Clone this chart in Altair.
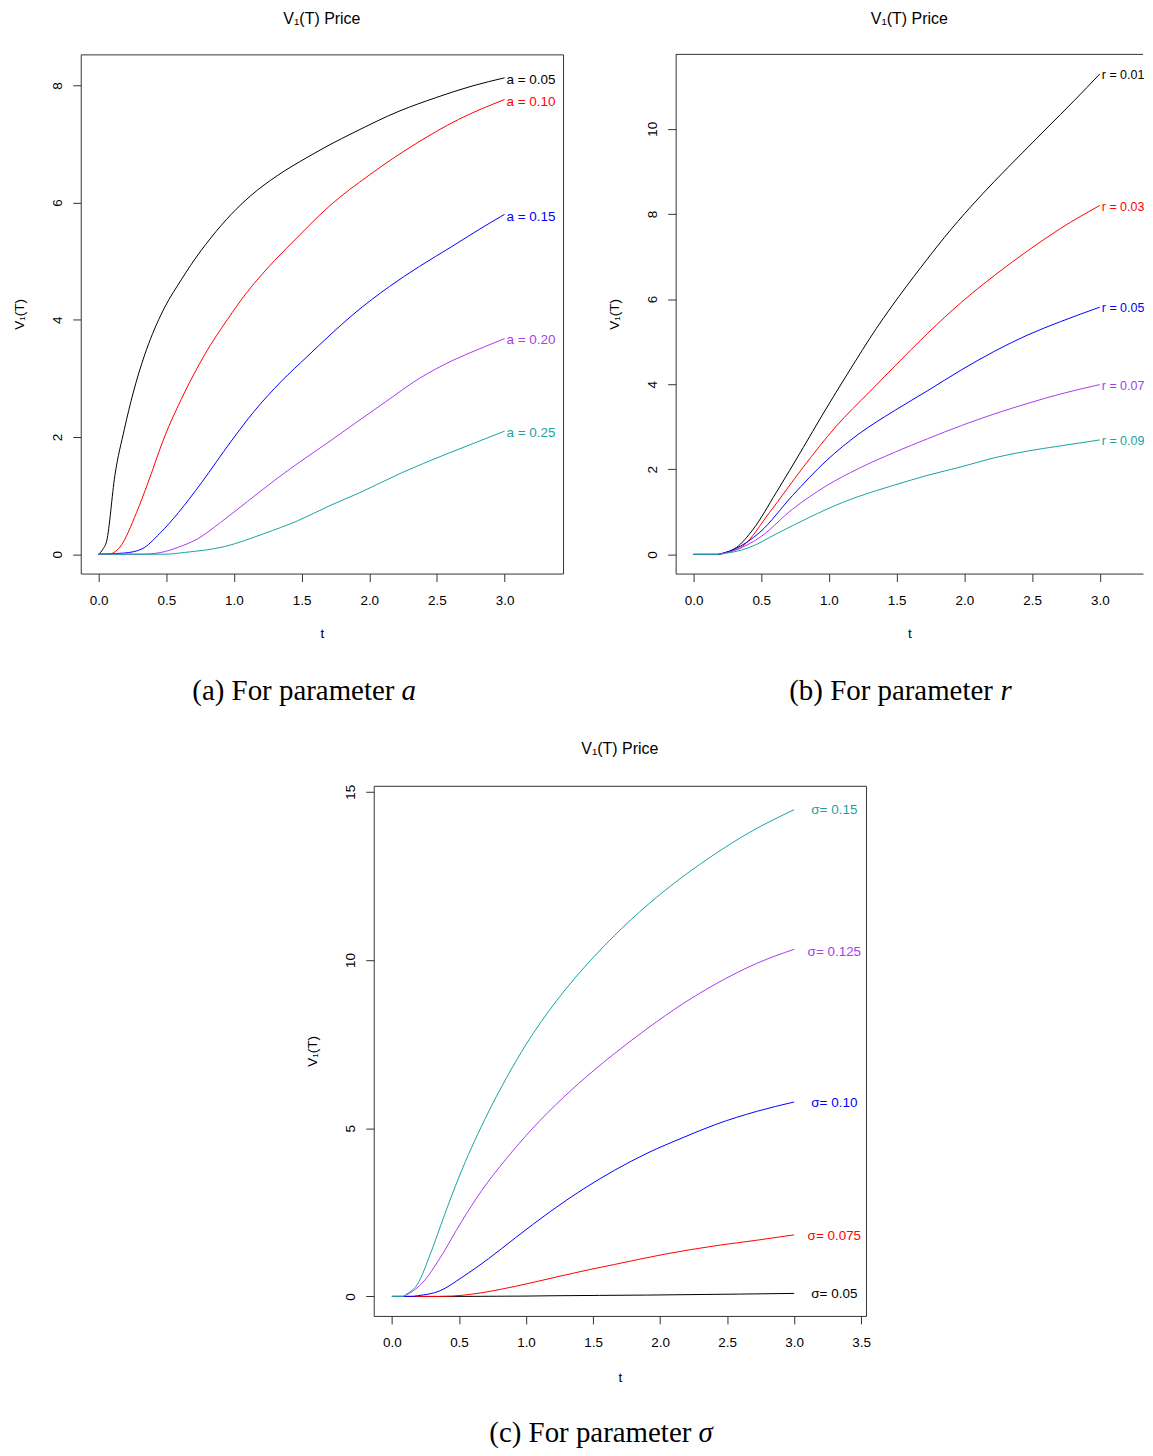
import altair as alt
import pandas as pd

SANS = "Liberation Sans"
SERIF = "Liberation Serif"
FRAME = "#333333"
COLORS = ["#000000", "#FF0000", "#0000FF", "#A83CF0", "#17A3A3"]

# ---------------- panel (a): parameter a ----------------
A_NAMES = ["a = 0.05", "a = 0.10", "a = 0.15", "a = 0.20", "a = 0.25"]
A1_T = [0, 0.03, 0.06, 0.12, 0.19, 0.255, 0.34, 0.40, 0.49, 0.61, 0.68, 0.83, 0.98, 1.125, 1.32, 1.54, 1.71, 1.88, 2.22, 2.49, 2.76, 3.0]
A1_V = [0, 0.08, 0.23, 1.34, 2.13, 2.75, 3.40, 3.77, 4.22, 4.68, 4.93, 5.40, 5.80, 6.12, 6.46, 6.77, 6.99, 7.19, 7.56, 7.79, 7.99, 8.13]
A2_T = [0, 0.07, 0.157, 0.28, 0.365, 0.49, 0.61, 0.79, 0.95, 1.10, 1.30, 1.47, 1.63, 1.71, 2.0, 2.34, 2.66, 3.0]
A2_V = [0, 0, 0.12, 0.71, 1.22, 2.02, 2.64, 3.43, 4.0, 4.48, 5.01, 5.41, 5.78, 5.95, 6.47, 7.00, 7.42, 7.76]
A3_T = [0, 0.19, 0.32, 0.45, 0.59, 0.76, 0.98, 1.15, 1.35, 1.54, 1.71, 1.88, 2.15, 2.37, 2.61, 2.81, 3.0]
A3_V = [0, 0.02, 0.09, 0.35, 0.71, 1.22, 1.93, 2.44, 2.95, 3.37, 3.74, 4.09, 4.57, 4.91, 5.25, 5.54, 5.80]
A4_T = [0, 0.32, 0.46, 0.59, 0.73, 0.90, 1.10, 1.30, 1.49, 1.71, 1.88, 2.12, 2.37, 2.61, 2.81, 3.0]
A4_V = [0, 0, 0.03, 0.12, 0.26, 0.54, 0.90, 1.26, 1.58, 1.93, 2.21, 2.60, 3.0, 3.30, 3.50, 3.68]
A5_T = [0, 0.49, 0.635, 0.93, 1.22, 1.47, 1.71, 1.93, 2.24, 2.56, 2.78, 3.0]
A5_V = [0, 0, 0.03, 0.13, 0.35, 0.57, 0.83, 1.05, 1.39, 1.70, 1.90, 2.10]
A_LABEL_V = [8.10, 7.72, 5.76, 3.65, 2.07]

# ---------------- panel (b): parameter r ----------------
B_NAMES = ["r = 0.01", "r = 0.03", "r = 0.05", "r = 0.07", "r = 0.09"]
B1_T = [0, 0.18, 0.22, 0.316, 0.44, 0.61, 0.81, 0.95, 1.15, 1.35, 1.57, 1.68, 1.85, 2.05, 2.22, 2.42, 2.61, 2.81, 3.0]
B1_V = [0, 0, 0.03, 0.16, 0.59, 1.45, 2.51, 3.27, 4.31, 5.31, 6.29, 6.75, 7.44, 8.18, 8.76, 9.41, 10.02, 10.66, 11.29]
B2_T = [0, 0.18, 0.22, 0.365, 0.56, 0.81, 1.05, 1.30, 1.485, 1.73, 1.98, 2.22, 2.47, 2.71, 3.0]
B2_V = [0, 0, 0.03, 0.20, 0.98, 2.05, 3.00, 3.82, 4.42, 5.20, 5.93, 6.55, 7.14, 7.66, 8.20]
B3_T = [0, 0.18, 0.22, 0.30, 0.49, 0.73, 0.98, 1.22, 1.485, 1.73, 1.98, 2.22, 2.47, 2.71, 3.0]
B3_V = [0, 0, 0.03, 0.12, 0.52, 1.38, 2.20, 2.83, 3.38, 3.85, 4.34, 4.77, 5.16, 5.47, 5.81]
B4_T = [0, 0.18, 0.22, 0.30, 0.49, 0.73, 0.98, 1.22, 1.485, 1.73, 1.98, 2.22, 2.47, 2.71, 3.0]
B4_V = [0, 0, 0.02, 0.09, 0.40, 1.06, 1.61, 2.02, 2.40, 2.72, 3.03, 3.30, 3.55, 3.77, 3.99]
B5_T = [0, 0.18, 0.22, 0.30, 0.41, 0.61, 0.855, 1.10, 1.35, 1.485, 1.73, 1.98, 2.22, 2.47, 2.71, 3.0]
B5_V = [0, 0, 0.02, 0.06, 0.16, 0.48, 0.87, 1.22, 1.50, 1.63, 1.86, 2.06, 2.27, 2.43, 2.55, 2.69]
B_LABEL_V = [11.26, 8.17, 5.78, 3.96, 2.67]

# ---------------- panel (c): parameter sigma ----------------
C_NAMES = ["σ= 0.05", "σ= 0.075", "σ= 0.10", "σ= 0.125", "σ= 0.15"]
C1_T = [0, 0.5, 1.0, 1.2, 1.9, 2.6, 3.0]
C1_V = [0, 0, 0.01, 0.02, 0.04, 0.07, 0.09]
C2_T = [0, 0.35, 0.45, 0.62, 0.92, 1.23, 1.5, 1.66, 2.04, 2.42, 2.72, 3.0]
C2_V = [0, 0, 0.01, 0.08, 0.30, 0.58, 0.82, 0.95, 1.26, 1.51, 1.67, 1.83]
C3_T = [0, 0.15, 0.19, 0.36, 0.52, 0.72, 0.92, 1.18, 1.43, 1.66, 1.91, 2.17, 2.42, 2.72, 3.0]
C3_V = [0, 0, 0.02, 0.17, 0.56, 1.12, 1.74, 2.52, 3.20, 3.75, 4.27, 4.72, 5.12, 5.50, 5.78]
C4_T = [0, 0.08, 0.11, 0.24, 0.36, 0.52, 0.67, 0.85, 1.05, 1.28, 1.5, 1.66, 1.91, 2.17, 2.42, 2.72, 3.0]
C4_V = [0, 0, 0.05, 0.46, 1.15, 2.23, 3.15, 4.08, 5.0, 5.92, 6.70, 7.22, 7.98, 8.70, 9.30, 9.90, 10.32]
C5_T = [0, 0.08, 0.11, 0.19, 0.29, 0.39, 0.50, 0.69, 0.87, 1.0, 1.23, 1.5, 1.66, 1.91, 2.17, 2.42, 2.67, 3.0]
C5_V = [0, 0, 0.07, 0.36, 1.30, 2.40, 3.55, 5.24, 6.61, 7.49, 8.80, 10.07, 10.73, 11.65, 12.48, 13.18, 13.80, 14.47]
C_LABEL_V = [0.06, 1.80, 5.74, 10.24, 14.47]

X_TICKS_AB = [0.0, 0.5, 1.0, 1.5, 2.0, 2.5, 3.0]
X_TICKS_C = [0.0, 0.5, 1.0, 1.5, 2.0, 2.5, 3.0, 3.5]
Y_TICKS_A = [0, 2, 4, 6, 8]
Y_TICKS_B = [0, 2, 4, 6, 8, 10]
Y_TICKS_C = [0, 5, 10, 15]

DUMMY = pd.DataFrame({"k": [0]})


def long_frame(names, ts, vs):
    rows = []
    for n, t, v in zip(names, ts, vs):
        for ti, vi in zip(t, v):
            rows.append({"s": n, "t": ti, "v": vi})
    return pd.DataFrame(rows)


def panel(names, ts, vs, label_v, label_t, label_align, label_dx, label_size,
          xdom, ydom, xticks, yticks, w, h, cap_main, cap_sym,
          cap_x1, cap_x2, cap_y, xtitle_y, open_right=False):
    df = long_frame(names, ts, vs)
    color = alt.Color("s:N", scale=alt.Scale(domain=names, range=COLORS), legend=None)
    xs = alt.Scale(domain=xdom, nice=False, zero=False)
    ys = alt.Scale(domain=ydom, nice=False, zero=False)
    xaxis = alt.Axis(values=xticks, format=".1f", title="t", titleX=w / 2, titleY=xtitle_y,
                     titleBaseline="middle", titleAlign="center", labelPadding=12, tickSize=8,
                     domain=open_right, grid=False, labelFlush=False, labelOverlap=False)
    yaxis = alt.Axis(values=yticks, format="d", title="V₁(T)", titleAngle=270, titleX=-61,
                     titleY=h / 2, titleBaseline="middle", titleAlign="center",
                     labelAngle=270, labelAlign="center", labelBaseline="alphabetic",
                     labelPadding=11, tickSize=8, domain=open_right, grid=False,
                     labelOverlap=False)
    lines = alt.Chart(df).mark_line(strokeWidth=1, clip=True, interpolate="monotone").encode(
        x=alt.X("t:Q", scale=xs, axis=xaxis),
        y=alt.Y("v:Q", scale=ys, axis=yaxis),
        color=color,
    )
    lab_df = pd.DataFrame({"s": names, "t": [label_t] * len(names), "v": label_v})
    labels = alt.Chart(lab_df).mark_text(
        align=label_align, baseline="middle", dx=label_dx, font=SANS, fontSize=label_size
    ).encode(
        x=alt.X("t:Q", scale=xs, axis=xaxis),
        y=alt.Y("v:Q", scale=ys, axis=yaxis),
        text="s:N",
        color=color,
    )
    cap1 = alt.Chart(DUMMY).mark_text(
        align="left", baseline="middle", font=SERIF, fontSize=29, color="black"
    ).encode(x=alt.value(cap_x1), y=alt.value(cap_y), text=alt.value(cap_main))
    cap2 = alt.Chart(DUMMY).mark_text(
        align="left", baseline="middle", font=SERIF, fontSize=29, fontStyle="italic",
        color="black"
    ).encode(x=alt.value(cap_x2), y=alt.value(cap_y), text=alt.value(cap_sym))
    layers = [lines, labels, cap1, cap2]
    if open_right:
        top_edge = alt.Chart(DUMMY).mark_rule(color=FRAME, strokeWidth=1).encode(
            x=alt.value(0), x2=alt.value(w), y=alt.value(0))
        layers.append(top_edge)
    title = alt.TitleParams("V₁(T) Price", font=SANS, fontSize=16, fontWeight="normal",
                            color="black", anchor="middle", frame="group",
                            baseline="bottom", offset=11)
    props = dict(width=w, height=h, title=title)
    if open_right:
        props["view"] = alt.ViewBackground(stroke="transparent")
    return alt.layer(*layers).properties(**props)


pa = panel(A_NAMES, [A1_T, A2_T, A3_T, A4_T, A5_T], [A1_V, A2_V, A3_V, A4_V, A5_V],
           A_LABEL_V, 3.0, "left", 2, 13.5, [-0.132, 3.432], [-0.33, 8.53], X_TICKS_AB, Y_TICKS_A,
           484, 521, "(a) For parameter", "a", 112, 322, 639, 60)

# panel (b) runs off the right edge of the page in the original, so its frame is left open
pb = panel(B_NAMES, [B1_T, B2_T, B3_T, B4_T, B5_T], [B1_V, B2_V, B3_V, B4_V, B5_V],
           B_LABEL_V, 3.0, "left", 2, 12.5, [-0.132, 3.319], [-0.45, 11.75], X_TICKS_AB, Y_TICKS_B,
           469, 521, "(b) For parameter", "r", 114, 326, 639, 60, open_right=True)

pc = panel(C_NAMES, [C1_T, C2_T, C3_T, C4_T, C5_T], [C1_V, C2_V, C3_V, C4_V, C5_V],
           C_LABEL_V, 3.3, "center", 0, 13.5, [-0.136, 3.536], [-0.58, 15.18], X_TICKS_C, Y_TICKS_C,
           494, 532, "(c) For parameter", "σ", 116, 326, 650, 62)

# empty spacer that pushes panel (c) to the centre of the page
spacer = alt.Chart(DUMMY).mark_point(opacity=0, size=1).properties(
    width=200, height=10, view=alt.ViewBackground(stroke="transparent"))

top = alt.hconcat(pa, pb, spacing=43)
bottom = alt.hconcat(spacer, pc, spacing=24)
chart = alt.vconcat(top, bottom, spacing=34).properties(
    padding={"left": 4, "top": 0, "right": 0, "bottom": 0},
    background="white",
).configure_view(
    stroke=FRAME, strokeWidth=1
).configure_axis(
    labelFont=SANS, labelFontSize=13.5, labelColor="black",
    titleFont=SANS, titleFontSize=13.5, titleFontWeight="normal", titleColor="black",
    tickColor=FRAME, domainColor=FRAME, tickWidth=1, domainWidth=1
)

chart.save("out.html", embed_options={"renderer": "svg", "actions": False})
